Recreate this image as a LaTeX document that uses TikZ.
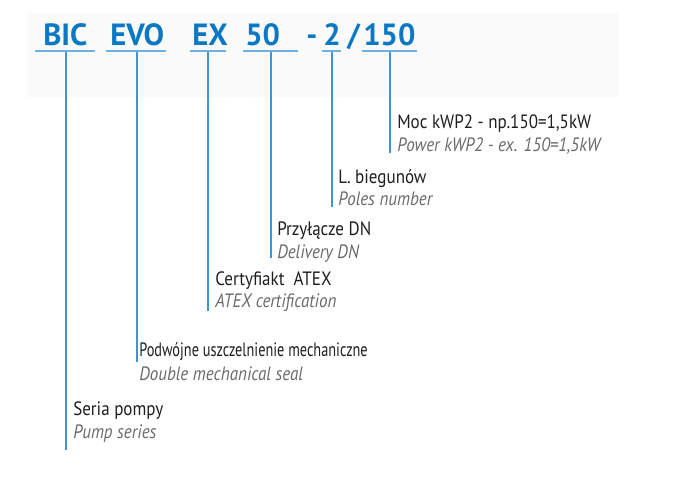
\documentclass[tikz,border=0pt]{standalone}
\usepackage{fontspec}
\setmainfont{PT Sans}[FakeStretch=0.88]
\newfontfamily\hdrfont{PT Sans}
\newfontfamily\narrowfont{PT Sans}[FakeStretch=0.74]
\definecolor{hdrblue}{HTML}{0A78C2}
\definecolor{ulblue}{HTML}{6DB0E0}
\definecolor{lnblue}{HTML}{3D95D4}
\definecolor{pltext}{HTML}{1E1E1E}
\definecolor{entext}{HTML}{6A6A6A}
\definecolor{band}{HTML}{FAFAFA}
\tikzset{
  hdr/.style={anchor=base west, inner sep=0pt, text=hdrblue, font=\hdrfont\fontsize{23}{26}\selectfont\bfseries},
  pl/.style={anchor=base west, inner sep=0pt, text=pltext, font=\fontsize{14.5}{17}\selectfont},
  en/.style={anchor=base west, inner sep=0pt, text=entext, font=\fontsize{14.5}{17}\selectfont\itshape},
  uline/.style={draw=ulblue, line width=1.6pt},
  vline/.style={draw=lnblue, line width=0.8pt},
}
\begin{document}
\begin{tikzpicture}[x=0.75pt,y=-0.75pt]
\useasboundingbox (0,0) rectangle (700,500);
\fill[band] (27,13) rectangle (618,97);
% header tokens
\node[hdr] (bic) at (43,45) {BIC};
\node[hdr] (evo) at (110,45) {EVO};
\node[hdr] (ex) at (192,45) {EX};
\node[hdr] (fifty) at (245,45) {50};
\node[hdr] (dash) at (306,45) {-};
\node[hdr] (two) at (323,45) {2};
\node[hdr] (slash) at (347,45) {/};
\node[hdr] (onefifty) at (363,45) {150};
% underlines
\coordinate (ulA1) at (35,51); \coordinate (ulA2) at (95,51);
\coordinate (ulB1) at (106,51); \coordinate (ulB2) at (166,51);
\coordinate (ulC1) at (190,51); \coordinate (ulC2) at (226,51);
\coordinate (ulD1) at (243,51); \coordinate (ulD2) at (298,51);
\coordinate (ulE1) at (322,51); \coordinate (ulE2) at (341,51);
\coordinate (ulF1) at (362,51); \coordinate (ulF2) at (417,51);
\draw[uline] (ulA1) -- (ulA2);
\draw[uline] (ulB1) -- (ulB2);
\draw[uline] (ulC1) -- (ulC2);
\draw[uline] (ulD1) -- (ulD2);
\draw[uline] (ulE1) -- (ulE2);
\draw[uline] (ulF1) -- (ulF2);
% labels
\node[pl] (plF) at (397,128) {Moc kWP2 - np.150=1,5kW};
\node[en] (enF) at (397,151) {Power kWP2 - ex. 150=1,5kW};
\node[pl] (plE) at (338,183) {L. biegunów};
\node[en] (enE) at (338,205) {Poles number};
\node[pl] (plD) at (277,235) {Przyłącze DN};
\node[en] (enD) at (277,258) {Delivery DN};
\node[pl] (plC) at (215,285) {Certyfiakt\ \ ATEX};
\node[en] (enC) at (215,307) {ATEX certification};
\node[pl] (plB) at (139,356) {\narrowfont Podwójne uszczelnienie mechaniczne};
\node[en] (enB) at (139,380) {Double mechanical seal};
\node[pl] (plA) at (73,415) {Seria pompy};
\node[en] (enA) at (73,438) {Pump series};
% vertical connectors
\coordinate (tA) at (66,52);  \coordinate (bA) at (66,450);
\coordinate (tB) at (137,52); \coordinate (bB) at (137,362);
\coordinate (tC) at (208,52); \coordinate (bC) at (208,311);
\coordinate (tD) at (271,52); \coordinate (bD) at (271,258);
\coordinate (tE) at (332,52); \coordinate (bE) at (332,207);
\coordinate (tF) at (390,52); \coordinate (bF) at (390,153);
\draw[vline] (tA) -- (bA);
\draw[vline] (tB) -- (bB);
\draw[vline] (tC) -- (bC);
\draw[vline] (tD) -- (bD);
\draw[vline] (tE) -- (bE);
\draw[vline] (tF) -- (bF);
\end{tikzpicture}
\end{document}
